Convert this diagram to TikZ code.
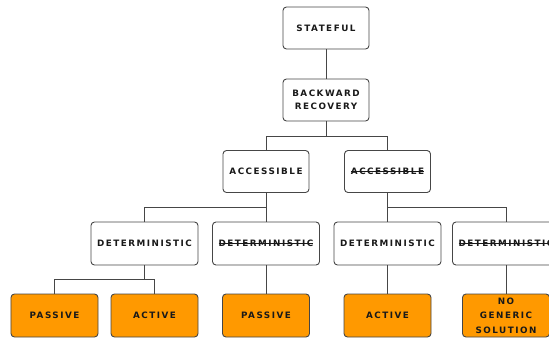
\documentclass[tikz,border=0pt]{standalone}
\usepackage{fontspec}
\newfontfamily\boxfont{DejaVu Sans}[LetterSpace=17]
\definecolor{leaforange}{RGB}{255,153,0}
\definecolor{edgegray}{RGB}{70,70,70}
\definecolor{txt}{RGB}{25,25,25}
\newsavebox\strkbox
\newcommand\strk[1]{\sbox\strkbox{#1}\rlap{\rule[0.33em]{\wd\strkbox}{0.8bp}}\usebox\strkbox}
\begin{document}
\begin{tikzpicture}[x=1bp,y=-1bp,
 box/.style={draw=edgegray, line width=0.9bp, rounded corners=3.5bp, fill=white, inner sep=0pt, align=center,
   font=\boxfont\bfseries\fontsize{8.8bp}{12.5bp}\selectfont, text=txt},
 topbox/.style={box, minimum width=86bp, minimum height=42bp},
 midbox/.style={box, minimum width=107bp, minimum height=43bp},
 leafbox/.style={box, fill=leaforange, minimum width=87bp, minimum height=43bp},
 conn/.style={draw=edgegray, line width=0.9bp}]
\useasboundingbox (0,0) rectangle (549,339);
% nodes
\node[topbox] (st) at (326,28) {STATEFUL};
\node[topbox] (bk) at (326,100) {BACKWARD\\RECOVERY};
\node[topbox] (acc) at (266,171.5) {ACCESSIBLE};
\node[topbox] (nacc) at (387.5,171.5) {\strk{ACCESSIBLE}};
\node[midbox] (d1) at (144.5,243.5) {DETERMINISTIC};
\node[midbox] (d2) at (266,243.5) {\strk{DETERMINISTIC}};
\node[midbox] (d3) at (387.5,243.5) {DETERMINISTIC};
\node[midbox] (d4) at (506,243.5) {\strk{DETERMINISTIC}};
\node[leafbox] (l1) at (54.5,315.5) {PASSIVE};
\node[leafbox] (l2) at (154.5,315.5) {ACTIVE};
\node[leafbox] (l3) at (266,315.5) {PASSIVE};
\node[leafbox] (l4) at (387.5,315.5) {ACTIVE};
\node[leafbox, font=\boxfont\bfseries\fontsize{8.8bp}{14.5bp}\selectfont] (l5) at (506,315.5) {NO\\GENERIC\\SOLUTION};
% junctions
\coordinate (j1) at (326,136);
\coordinate (j2) at (266,207.5);
\coordinate (j3) at (387.5,207.5);
\coordinate (j4) at (144.5,279);
% connectors
\draw[conn] (st.south) -- (bk.north);
\draw[conn] (bk.south) -- (j1);
\draw[conn] (j1) -| (acc.north);
\draw[conn] (j1) -| (nacc.north);
\draw[conn] (acc.south) -- (d2.north);
\draw[conn] (j2) -| (d1.north);
\draw[conn] (nacc.south) -- (d3.north);
\draw[conn] (j3) -| (d4.north);
\draw[conn] (d1.south) -- (j4);
\draw[conn] (j4) -| (l1.north);
\draw[conn] (j4) -| (l2.north);
\draw[conn] (d2.south) -- (l3.north);
\draw[conn] (d3.south) -- (l4.north);
\draw[conn] (d4.south) -- (l5.north);
\end{tikzpicture}
\end{document}
